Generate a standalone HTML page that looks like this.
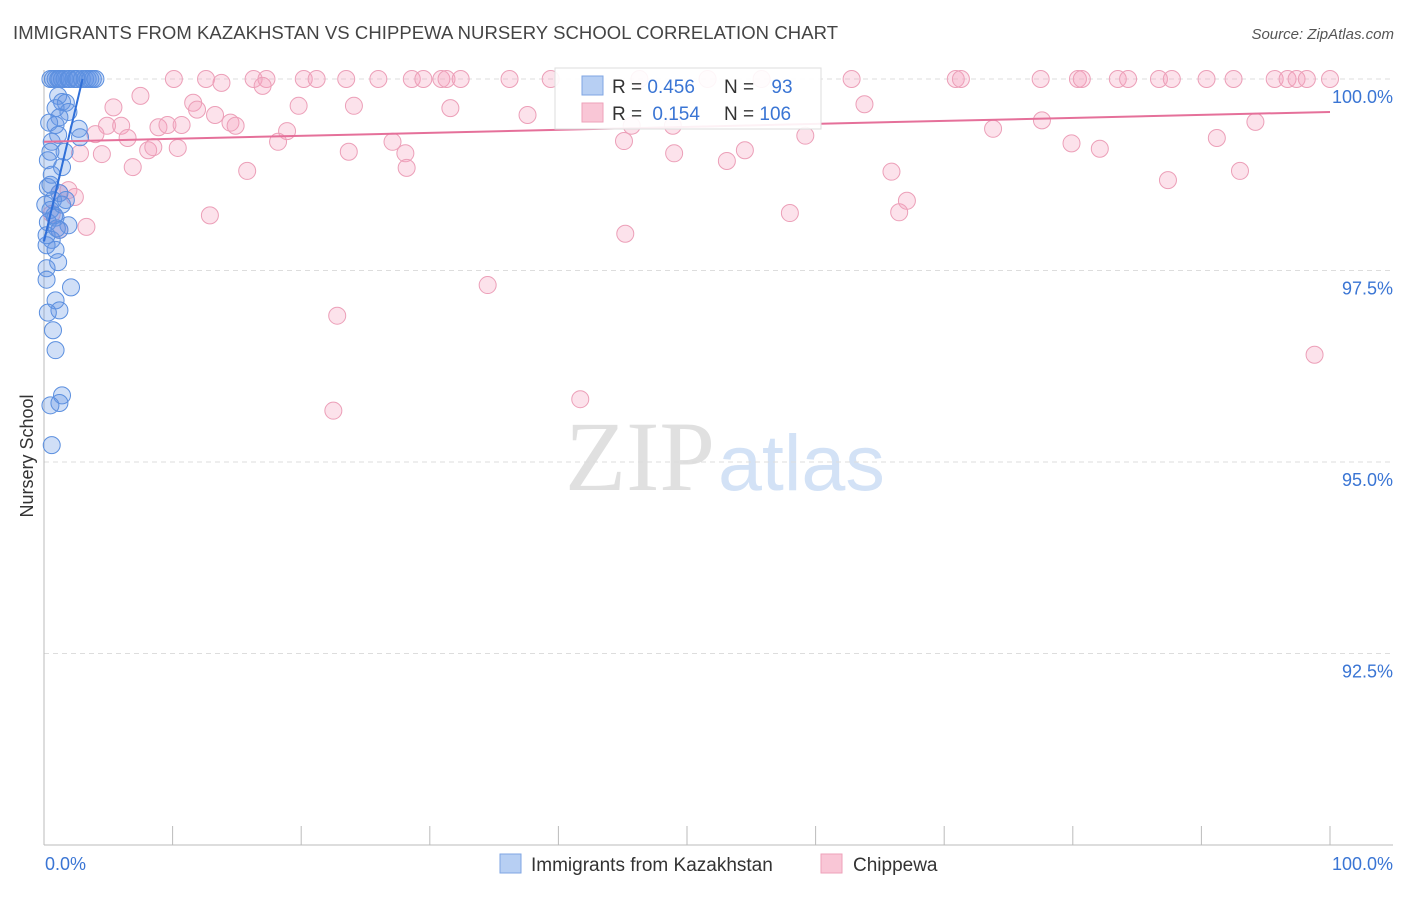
<!DOCTYPE html>
<html><head><meta charset="utf-8"><style>
body{margin:0;background:#fff;font-family:"Liberation Sans",sans-serif;}
</style></head><body>
<svg id="chart" width="1406" height="892" xmlns="http://www.w3.org/2000/svg" style="font-family:'Liberation Sans',sans-serif">
<text x="13" y="39" font-size="18.5" fill="#444" textLength="825">IMMIGRANTS FROM KAZAKHSTAN VS CHIPPEWA NURSERY SCHOOL CORRELATION CHART</text>
<text x="1394" y="39" font-size="15" fill="#555" text-anchor="end" font-style="italic">Source: ZipAtlas.com</text>
<text x="715" y="490" font-size="100" text-anchor="end" fill="#e0e0e0" font-family="Liberation Serif,serif">ZIP</text>
<text x="718" y="490" font-size="79" fill="#d3e2f6">atlas</text>
<text transform="translate(33,456) rotate(-90)" font-size="18" fill="#333" text-anchor="middle">Nursery School</text>
<g id="grid"></g><g id="pts"></g><g id="lines"></g>
<g>
<rect x="555" y="68" width="266" height="61" fill="#fff" fill-opacity="0.9" stroke="#ddd"/>
<rect x="582" y="76" width="21" height="19" fill="#b7cff3" stroke="#7fa6e3"/>
<rect x="582" y="103" width="21" height="19" fill="#f9c6d6" stroke="#eea1ba"/>
<text x="612" y="93" font-size="19" fill="#333">R = <tspan fill="#3a75d4">0.456</tspan></text>
<text x="724" y="93" font-size="19" fill="#333">N = <tspan fill="#3a75d4" dx="12">93</tspan></text>
<text x="612" y="120" font-size="19" fill="#333">R = <tspan fill="#3a75d4" dx="5">0.154</tspan></text>
<text x="724" y="120" font-size="19" fill="#333">N = <tspan fill="#3a75d4">106</tspan></text>
</g>
<g>
<rect x="500" y="854" width="21" height="19" fill="#b7cff3" stroke="#7fa6e3"/>
<text x="531" y="871" font-size="19" fill="#333">Immigrants from Kazakhstan</text>
<rect x="821" y="854" width="21" height="19" fill="#f9c6d6" stroke="#eea1ba"/>
<text x="853" y="871" font-size="19" fill="#333">Chippewa</text>
</g>
</svg>
<script>
const yTicks=[100,97.5,95,92.5];
const yTickLabels=["100.0%","97.5%","95.0%","92.5%"];
const xTickLabels=["0.0%","100.0%"];
const blueX=[0.5,0.7,0.9,1.1,1.2,1.4,1.6,1.9,2.0,2.3,2.5,2.6,2.95,3.2,3.4,3.6,3.8,4.0,1.1,1.4,1.7,0.9,1.9,1.2,0.4,0.9,2.7,2.8,1.1,0.6,1.6,0.5,0.3,1.4,0.6,0.3,1.2,0.7,0.1,1.7,0.5,0.9,1.9,0.3,1.2,0.6,0.2,0.9,1.1,0.2,0.2,2.1,0.9,1.2,0.3,0.7,0.9,1.4,1.2,0.5,0.6,0.2,0.5,0.8,1.0,1.4];
const blueY=[100,100,100,100,100,100,100,100,100,100,100,100,100,100,100,100,100,100,99.78,99.7,99.69,99.62,99.57,99.5,99.43,99.4,99.35,99.24,99.27,99.18,99.05,99.05,98.94,98.85,98.75,98.59,98.51,98.42,98.36,98.42,98.29,98.19,98.09,98.13,98.03,97.9,97.83,97.77,97.61,97.53,97.38,97.28,97.11,96.98,96.95,96.72,96.46,95.87,95.77,95.74,95.22,97.96,98.62,98.22,98.05,98.36];
const pinkX=[10.1,12.6,16.3,17.3,20.2,21.2,23.5,26.0,28.6,29.5,30.9,31.3,32.4,36.2,39.4,46.3,51.6,55.8,62.8,70.9,71.3,77.5,80.4,80.7,83.5,84.3,86.7,87.7,90.4,92.5,95.7,96.7,97.4,98.2,100,13.8,17.0,7.5,5.4,11.6,11.9,19.8,24.1,31.6,37.6,63.8,13.3,4.9,6.0,8.9,9.6,10.7,14.5,14.9,18.9,4.0,6.5,8.1,8.5,10.4,2.8,4.5,18.2,23.7,27.1,28.1,28.2,45.1,45.7,48.9,49.0,54.5,53.1,59.2,73.8,77.6,82.1,79.9,91.2,94.2,6.9,15.8,65.9,87.4,93.0,1.2,1.9,2.4,12.9,58.0,66.5,67.1,3.3,45.2,34.5,22.8,22.5,41.7,98.8,1.2,0.6];
const pinkY=[100,100,100,100,100,100,100,100,100,100,100,100,100,100,100,100,100,100,100,100,100,100,100,100,100,100,100,100,100,100,100,100,100,100,100,99.95,99.91,99.78,99.63,99.69,99.6,99.65,99.65,99.62,99.53,99.67,99.53,99.39,99.39,99.37,99.4,99.4,99.43,99.39,99.32,99.28,99.23,99.07,99.11,99.1,99.03,99.02,99.18,99.05,99.18,99.03,98.84,99.19,99.39,99.39,99.03,99.07,98.93,99.26,99.35,99.46,99.09,99.16,99.23,99.44,98.85,98.8,98.79,98.68,98.8,98.51,98.55,98.46,98.22,98.25,98.26,98.41,98.07,97.98,97.31,96.91,95.67,95.82,96.4,98.03,98.24];
const blueTrend=[97.88,0.707];
const pinkTrend=[99.18,0.0039];
const NS="http://www.w3.org/2000/svg";
const X0=44,X1=1330,Y0=79,Y1=845;
const xs=v=>X0+(X1-X0)*v/100;
const ys=v=>Y0+(100-v)/10*(Y1-Y0);
function mk(tag,attrs,parent){const e=document.createElementNS(NS,tag);for(const k in attrs)e.setAttribute(k,attrs[k]);document.getElementById(parent).appendChild(e);return e;}
yTicks.forEach((t,i)=>{
 const g=mk('line',{x1:X0,x2:1393,y1:ys(t),y2:ys(t),stroke:'#ddd','stroke-dasharray':'5,4'},'grid');
 
 
 const l=mk('text',{x:1393,y:ys(t)+24,'font-size':18,fill:'#3a75d4','text-anchor':'end'},'grid');
 l.textContent=yTickLabels[i];
 
 
});
const ax=mk('line',{x1:X0,x2:1393,y1:Y1,y2:Y1,stroke:'#bbb'},'grid');


const ay=mk('line',{x1:X0,x2:X0,y1:70,y2:Y1,stroke:'#bbb'},'grid');


for(let i=0;i<=10;i++){const t=mk('line',{x1:xs(i*10),x2:xs(i*10),y1:826,y2:Y1,stroke:'#bbb'},'grid');
 
 }
[[0,'start',45],[100,'end',1393]].forEach((a,i)=>{const t=mk('text',{x:a[2],y:870,'font-size':18,fill:'#3a75d4','text-anchor':a[1]},'grid');t.textContent=xTickLabels[i];
 
 });
pinkX.forEach((x,i)=>{const c=mk('circle',{cx:xs(x),cy:ys(pinkY[i]),r:8.5,fill:'rgba(244,160,190,0.3)',stroke:'#ec9fb8','stroke-width':1},'pts');
 
 });
blueX.forEach((x,i)=>{const c=mk('circle',{cx:xs(x),cy:ys(blueY[i]),r:8.5,fill:'rgba(100,150,230,0.3)',stroke:'#5b8fdf','stroke-width':1},'pts');
 
 });
const bEnd=(100-blueTrend[0])/blueTrend[1];
const bl=mk('line',{x1:xs(0),y1:ys(blueTrend[0]),x2:xs(bEnd),y2:ys(100),stroke:'#2f6fd8','stroke-width':2},'lines');


const pl=mk('line',{x1:xs(0),y1:ys(pinkTrend[0]),x2:xs(100),y2:ys(pinkTrend[0]+pinkTrend[1]*100),stroke:'#e5709a','stroke-width':2},'lines');


</script>
</body></html>
